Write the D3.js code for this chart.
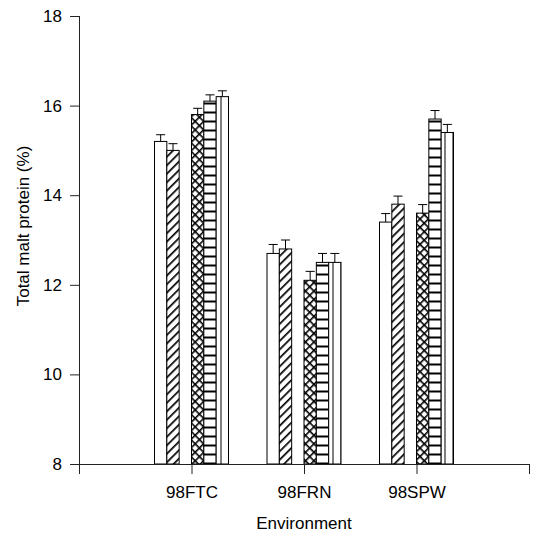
<!DOCTYPE html>
<html>
<head>
<meta charset="utf-8">
<script src="https://cdn.jsdelivr.net/npm/d3@7"></script>
<style>
  body { margin: 0; background: #fff; }
  text { font-family: "Liberation Sans", Arial, sans-serif; }
</style>
</head>
<body>
<div class="chart"></div>
<script>
// chart data
let environments = ['98FTC', '98FRN', '98SPW'];
let series = ['g1', 'g2', 'g3', 'g4', 'g5', 'g6'];   // g3 has no data
let values = [
    [15.2, 15.0, null, 15.8, 16.1, 16.2],
    [12.7, 12.8, null, 12.1, 12.5, 12.5],
    [13.4, 13.8, null, 13.6, 15.7, 15.4]
];
let errors = [
    [0.15, 0.15, null, 0.14, 0.14, 0.13],
    [0.2, 0.2, null, 0.2, 0.2, 0.2],
    [0.19, 0.18, null, 0.19, 0.19, 0.18]
];
let yTicks = [8, 10, 12, 14, 16, 18];
let fills = ['white', 'url(#diag)', 'white', 'url(#cross)', 'url(#horiz)', 'url(#vert)'];

let _width = 537, _height = 539;
let margin = {left: 79, right: 8, top: 16, bottom: 75};

let svg = d3.select('.chart')
    .append('svg')
    .attr('width', _width)
    .attr('height', _height);

// hatch patterns
let defs = svg.append('defs');
let p = defs.append('pattern').attr('id', 'diag').attr('patternUnits', 'userSpaceOnUse')
    .attr('width', 6).attr('height', 6).attr('patternTransform', 'rotate(45)');
p.append('rect').attr('width', 6).attr('height', 6).attr('fill', '#fff');
p.append('line').attr('x1', 0).attr('y1', 0).attr('x2', 0).attr('y2', 6)
    .attr('stroke', '#000').attr('stroke-width', 3.4);

p = defs.append('pattern').attr('id', 'cross').attr('patternUnits', 'userSpaceOnUse')
    .attr('width', 6).attr('height', 6).attr('patternTransform', 'rotate(45) translate(1,1)');
p.append('rect').attr('width', 6).attr('height', 6).attr('fill', '#fff');
p.append('line').attr('x1', 0).attr('y1', 0).attr('x2', 0).attr('y2', 6)
    .attr('stroke', '#000').attr('stroke-width', 3.2);
p.append('line').attr('x1', 0).attr('y1', 0).attr('x2', 6).attr('y2', 0)
    .attr('stroke', '#000').attr('stroke-width', 3.2);

p = defs.append('pattern').attr('id', 'horiz').attr('patternUnits', 'userSpaceOnUse')
    .attr('width', 9).attr('height', 9);
p.append('rect').attr('width', 9).attr('height', 9).attr('fill', '#fff');
p.append('line').attr('x1', 0).attr('y1', 4.5).attr('x2', 9).attr('y2', 4.5)
    .attr('stroke', '#000').attr('stroke-width', 2);

p = defs.append('pattern').attr('id', 'vert').attr('patternUnits', 'userSpaceOnUse')
    .attr('width', 8).attr('height', 8);
p.append('rect').attr('width', 8).attr('height', 8).attr('fill', '#fff');
p.append('line').attr('x1', 5).attr('y1', 0).attr('x2', 5).attr('y2', 8)
    .attr('stroke', '#000').attr('stroke-width', 1);

let x = d3.scaleLinear()
    .domain([0, environments.length + 1])
    .range([margin.left, _width - margin.right]);
let y = d3.scaleLinear()
    .domain([8, 18])
    .range([_height - margin.bottom, margin.top]);
let xs = d3.scaleBand()
    .domain(series)
    .range([-37, 37]);

// bars
let rows = [];
values.forEach((vals, i) => {
    vals.forEach((v, j) => {
        if (v !== null) rows.push({env: i, s: j, v: v, e: errors[i][j]});
    });
});

let bars = svg.append('g');
bars.selectAll('rect')
    .data(rows)
    .enter().append('rect')
    .attr('x', d => x(d.env + 1) + xs(series[d.s]))
    .attr('y', d => y(d.v))
    .attr('width', xs.bandwidth())
    .attr('height', d => y(8) - y(d.v))
    .attr('fill', d => fills[d.s])
    .attr('stroke', '#000')
    .attr('stroke-width', 1);

// error bars (upper only)
let eb = svg.append('g').attr('stroke', '#000').attr('stroke-width', 1);
eb.selectAll('line.v')
    .data(rows)
    .enter().append('line')
    .attr('class', 'v')
    .attr('x1', d => x(d.env + 1) + xs(series[d.s]) + xs.bandwidth() / 2)
    .attr('x2', d => x(d.env + 1) + xs(series[d.s]) + xs.bandwidth() / 2)
    .attr('y1', d => y(d.v))
    .attr('y2', d => y(d.v + d.e));
eb.selectAll('line.c')
    .data(rows)
    .enter().append('line')
    .attr('class', 'c')
    .attr('x1', d => x(d.env + 1) + xs(series[d.s]) + xs.bandwidth() / 2 - 4.5)
    .attr('x2', d => x(d.env + 1) + xs(series[d.s]) + xs.bandwidth() / 2 + 4.5)
    .attr('y1', d => y(d.v + d.e))
    .attr('y2', d => y(d.v + d.e));

// axes
let yAxis = svg.append('g')
    .attr('transform', `translate(${margin.left},0)`)
    .call(d3.axisLeft(y).tickValues(yTicks).tickSize(9).tickPadding(8).tickFormat(d3.format('d')));
yAxis.select('.domain').attr('d', `M0.5,${y(18)}V${y(8) + 6}`);

let xAxis = svg.append('g')
    .attr('transform', `translate(0,${y(8)})`)
    .call(d3.axisBottom(x).tickValues(d3.range(0, environments.length + 2)).tickSize(10).tickPadding(12)
        .tickFormat(d => environments[d - 1] || ''));
xAxis.select('.domain').attr('d', `M${x(0)},0.5H${x(environments.length + 1)}`);

svg.selectAll('.domain, .tick line').attr('stroke', '#222');
svg.selectAll('.tick text').attr('font-size', 17).attr('fill', '#000')
    .style('font-family', '"Liberation Sans", Arial, sans-serif');

// titles
svg.append('text')
    .attr('x', x(2))
    .attr('y', 529)
    .attr('text-anchor', 'middle')
    .attr('font-size', 17)
    .text('Environment');
svg.append('text')
    .attr('transform', `translate(29,226) rotate(-90)`)
    .attr('text-anchor', 'middle')
    .attr('font-size', 17)
    .text('Total malt protein (%)');
</script>
</body>
</html>
